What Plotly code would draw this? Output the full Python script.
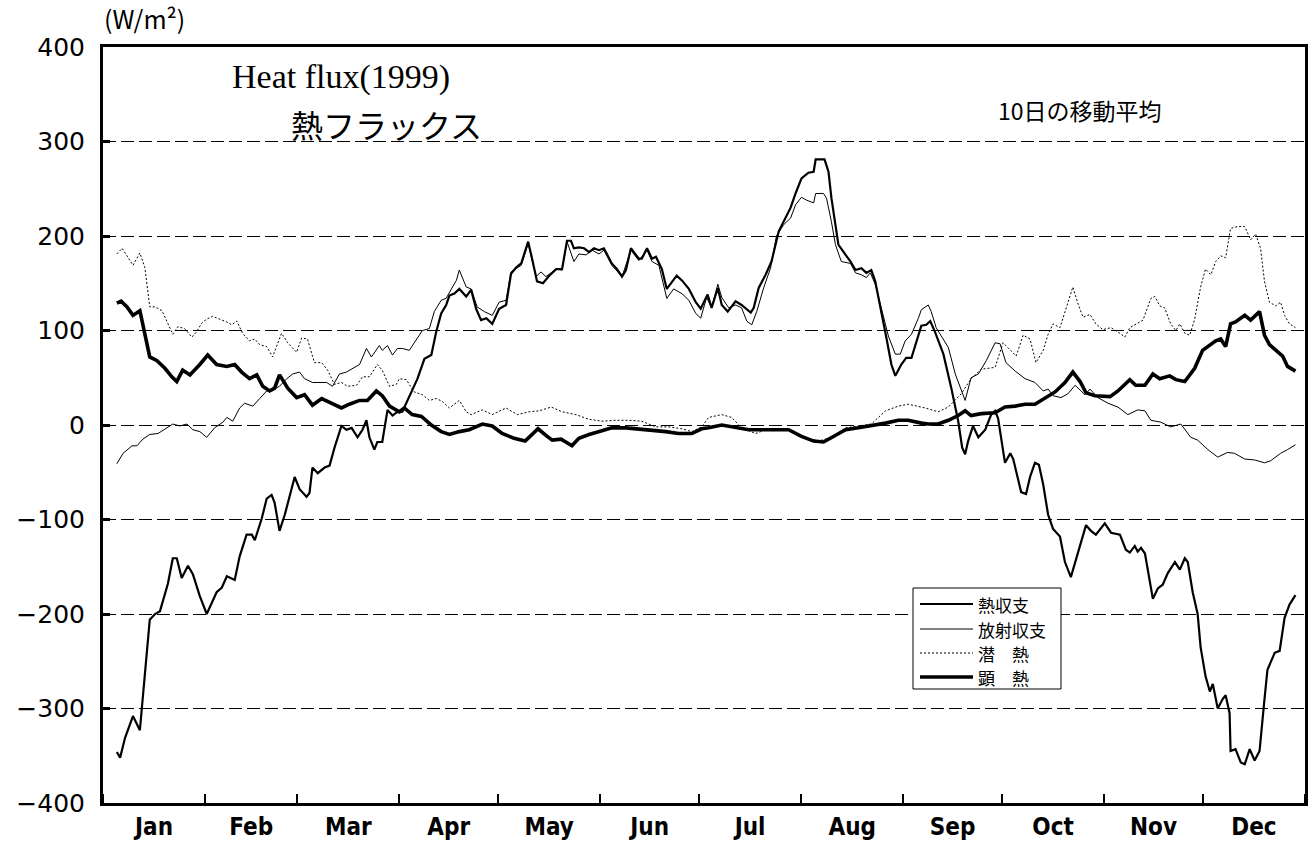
import pandas as pd
import plotly.graph_objects as go

# ---------------- data (day of year 1999, W/m2) ----------------
MONTH_START = "1999-01-01"

HB_DAY = [4.2,5.2,6.7,9.1,11.2,12.1,14.2,15.8,17.3,19.7,
          21.2,22.4,23.9,25.8,27.3,29.4,31.5,34.5,36.1,37.6,
          40.0,41.5,43.6,45.2,46.1,48.2,49.7,51.2,52.1,53.6,
          55.2,58.2,59.7,61.8,62.7,63.6,65.2,67.3,68.8,70.3,
          72.4,73.9,75.5,77.3,78.8,80.0,80.9,82.4,83.3,84.8,
          86.4,87.9,89.4,90.9,93.0,95.5,97.6,99.7,101.2,102.7,
          104.2,105.2,106.7,108.2,110.3,111.8,113.3,114.8,116.4,118.2,
          120.3,122.4,123.9,125.5,127.0,129.1,130.3,131.8,133.6,135.5,
          137.6,139.4,140.9,142.1,143.0,144.5,146.1,147.6,149.1,150.6,
          152.1,154.5,156.1,157.6,158.8,160.3,162.7,163.6,165.2,166.7,
          167.9,169.7,171.2,172.7,174.2,175.8,177.9,180.0,181.5,183.6,
          184.8,186.7,187.9,189.7,192.1,193.9,196.7,197.6,199.1,201.2,
          203.0,205.2,207.3,208.8,210.3,212.1,214.2,215.8,216.4,219.1,
          220.3,221.2,222.4,223.3,225.5,227.0,228.5,230.3,231.8,233.3,
          234.5,236.4,237.9,239.4,240.6,242.4,243.9,245.5,247.0,248.5,
          250.0,251.2,252.7,255.2,257.6,259.7,260.9,261.8,262.7,264.2,
          265.8,267.9,269.7,270.9,271.8,272.7,273.9,275.5,276.4,278.8,
          280.3,281.5,283.0,284.2,285.5,287.0,288.5,290.6,292.1,293.9,
          296.1,298.5,300.0,301.5,304.2,306.1,308.8,310.6,311.8,313.3,
          314.2,315.2,316.4,317.9,318.8,320.3,321.8,323.3,325.5,327.0,
          328.5,329.4,330.9,332.4,333.3,334.8,336.1,337.0,338.5,340.0,
          340.9,342.1,342.4,343.9,345.5,346.7,348.2,349.7,351.2,352.7,
          353.6,355.8,357.3,358.8,360.3,362.1]
HB_VAL = [-346,-352,-331,-308,-323,-290,-206,-200,-197,-168,
          -141,-141,-162,-149,-158,-181,-200,-177,-172,-160,
          -164,-139,-116,-116,-122,-99,-78,-74,-82,-112,
          -95,-55,-68,-76,-72,-45,-51,-45,-43,-24,
          -1,-5,-3,-13,-5,5,-13,-26,-18,-18,
          16,10,14,14,30,49,70,74,99,118,
          127,137,139,144,136,143,123,111,113,107,
          123,127,160,167,171,194,176,152,150,158,
          165,165,195,195,187,188,187,183,187,185,
          187,171,165,157,164,187,176,176,187,176,
          178,165,144,151,158,153,144,130,123,138,
          124,145,127,120,131,127,119,124,145,159,
          173,205,219,230,245,261,267,268,281,281,
          268,240,212,191,180,173,164,166,161,164,
          152,120,92,64,52,64,71,71,89,105,
          106,110,98,75,39,4,-24,-31,-17,-1,
          -13,-5,11,15,7,-12,-40,-30,-36,-71,
          -73,-55,-40,-42,-63,-95,-110,-118,-145,-161,
          -134,-106,-112,-116,-104,-114,-116,-132,-135,-128,
          -134,-130,-136,-169,-184,-173,-169,-157,-145,-153,
          -141,-145,-177,-200,-235,-266,-282,-274,-300,-290,
          -286,-305,-345,-343,-357,-359,-343,-355,-345,-290,
          -259,-241,-239,-204,-190,-180]

RB_DAY = [4.2,6.1,8.8,10.3,12.1,14.2,16.7,19.4,21.2,23.3,
          25.5,27.3,29.4,31.5,33.9,36.4,37.6,39.4,41.5,43.0,
          45.5,47.6,49.7,51.5,53.6,55.8,57.6,59.7,61.2,63.6,
          65.8,67.9,69.7,71.8,73.9,75.8,77.9,80.0,81.5,83.9,
          84.8,86.4,87.9,89.4,90.9,93.0,95.2,97.0,99.1,100.6,
          102.7,104.2,105.8,107.3,108.2,110.3,111.8,113.6,115.8,118.2,
          120.3,122.4,123.9,127.0,129.1,131.5,133.0,134.5,137.6,139.4,
          140.9,143.0,144.5,146.7,148.5,150.6,152.1,154.5,157.6,160.3,
          162.7,165.2,166.7,168.8,171.2,173.3,175.8,177.9,180.0,181.5,
          183.3,184.8,186.7,187.9,190.0,192.1,193.9,195.5,197.0,198.5,
          200.6,202.7,204.5,206.7,208.8,210.3,212.1,213.6,215.8,216.4,
          218.8,219.7,221.2,222.4,224.2,227.0,228.5,230.3,231.8,233.0,
          234.5,236.4,238.5,240.6,242.1,243.6,245.5,247.6,248.5,250.6,
          251.5,253.0,255.2,256.7,258.8,260.3,261.8,263.6,265.8,268.2,
          270.9,272.4,274.2,277.0,280.0,283.0,285.5,287.0,288.5,290.9,
          293.0,295.2,298.2,299.7,302.1,305.2,308.2,311.2,314.2,316.4,
          318.2,321.2,324.2,327.3,330.3,332.4,335.5,338.5,341.5,343.6,
          346.7,349.7,352.7,354.5,357.6,359.7,362.1]
RB_VAL = [-41,-30,-22,-22,-15,-10,-9,-3,1,-1,
          1,-5,-7,-13,-3,3,8,4,18,23,
          20,28,36,37,41,49,54,56,49,45,
          45,45,41,54,56,60,64,81,72,84,
          79,84,74,81,81,79,90,100,102,120,
          132,134,144,153,164,146,144,125,120,116,
          130,132,162,169,192,157,162,157,165,164,
          194,173,181,180,185,181,185,169,157,185,
          174,185,173,169,134,144,139,132,118,113,
          135,124,149,135,124,127,124,110,106,120,
          145,166,200,212,219,233,241,238,235,245,
          245,240,215,191,173,171,161,159,156,161,
          149,124,94,75,75,89,96,113,122,127,
          120,103,90,82,54,41,26,50,54,68,
          87,86,66,57,49,45,36,38,31,29,
          33,42,32,38,29,23,19,11,16,15,
          5,3,-2,1,-13,-16,-26,-34,-29,-30,
          -36,-37,-40,-38,-30,-26,-21]

LH_DAY = [4.2,5.8,7.3,9.1,11.2,12.7,14.2,15.8,17.9,19.7,
          21.2,22.7,24.8,27.0,28.5,30.0,31.5,33.3,35.5,37.6,
          39.1,40.6,42.4,44.5,46.1,47.6,49.7,51.5,54.2,56.1,
          58.8,60.3,62.1,64.2,66.4,68.2,70.3,72.4,74.2,77.0,
          78.8,80.9,83.3,84.8,87.0,89.1,90.0,92.1,94.5,97.0,
          99.1,101.2,103.0,105.2,108.2,110.3,111.8,115.2,118.2,122.4,
          125.8,129.4,132.4,136.1,139.4,143.6,147.6,151.5,155.8,159.7,
          163.6,167.9,171.8,175.8,178.8,181.8,183.9,187.9,190.9,193.9,
          198.2,201.2,205.2,209.1,213.3,217.3,221.2,225.5,229.4,233.3,
          237.6,241.5,244.5,249.7,253.6,256.7,260.6,263.6,266.7,270.9,
          273.3,275.5,277.3,279.4,281.5,283.3,285.5,287.0,288.5,290.6,
          292.4,294.5,296.1,297.6,299.7,301.5,303.6,306.1,308.8,310.3,
          311.8,313.6,315.8,318.2,319.4,320.9,322.4,324.2,325.8,327.0,
          328.5,330.0,331.5,333.3,334.8,336.4,337.9,339.4,340.9,342.4,
          344.5,346.7,348.5,350.0,351.5,352.7,354.2,356.1,357.6,358.8,
          360.3,362.1]
LH_VAL = [181,187,179,169,182,167,125,125,121,108,
          96,104,102,93,99,108,112,115,112,109,
          106,110,97,89,91,85,83,72,97,87,
          77,92,91,66,66,58,43,45,41,42,
          51,51,64,58,41,43,49,48,35,32,
          26,28,25,18,26,14,11,16,11,18,
          11,14,15,19,14,11,6,4,5,5,
          4,-2,-2,-4,-7,-2,8,11,8,-3,
          -9,-5,-5,-6,-13,-17,-13,-3,-1,1,
          15,20,22,18,14,19,33,49,59,61,
          87,79,73,95,91,66,79,96,107,103,
          124,146,128,114,117,107,101,103,97,93,
          103,107,111,134,136,126,124,107,100,107,
          97,95,112,146,165,159,173,179,177,208,
          210,210,196,202,187,152,130,126,130,116,
          107,103]

SH_DAY = [4.2,5.5,7.3,9.1,11.2,12.7,14.2,16.4,18.8,20.9,
          22.4,24.2,26.4,29.4,31.8,34.5,37.6,40.0,42.1,44.5,
          46.7,48.5,50.6,52.1,53.6,56.1,58.8,61.2,63.6,66.4,
          68.8,72.4,74.8,77.9,80.3,83.0,84.8,87.0,90.0,91.5,
          93.9,96.7,99.7,102.7,105.2,108.2,111.2,115.2,118.2,121.2,
          124.8,128.2,130.0,132.1,134.5,136.4,139.1,142.4,144.5,147.6,
          151.5,154.5,158.8,162.7,166.7,170.9,174.8,178.8,181.8,183.9,
          187.9,192.1,196.1,201.2,208.2,212.1,215.8,218.8,221.2,225.5,
          229.4,233.3,237.6,241.5,244.5,248.5,250.6,253.6,256.7,259.7,
          261.8,263.6,266.7,270.9,273.9,277.0,280.0,283.0,286.1,289.1,
          292.1,294.5,296.7,298.5,301.2,303.6,305.8,308.2,311.8,313.6,
          316.4,318.8,320.9,323.9,325.8,328.5,331.5,333.9,336.1,337.9,
          339.4,340.9,342.4,343.9,346.7,348.5,351.2,352.7,354.2,356.7,
          358.2,359.7,362.1]
SH_VAL = [129,131,125,116,121,95,72,68,60,51,
          46,58,53,64,74,64,62,64,56,49,
          53,41,36,39,53,39,29,32,21,28,
          24,18,22,26,26,36,31,20,14,18,
          11,9,0,-7,-10,-7,-5,1,-1,-9,
          -14,-17,-11,-4,-11,-16,-15,-22,-14,-10,
          -6,-3,-3,-4,-5,-7,-9,-9,-4,-3,
          0,-3,-5,-5,-5,-12,-17,-18,-13,-5,
          -3,-1,2,5,5,2,1,1,5,10,
          15,10,12,13,19,20,22,22,29,35,
          45,56,46,34,31,30,30,36,48,42,
          42,54,49,52,48,46,60,79,85,89,
          91,83,107,109,116,111,120,95,85,77,
          73,62,57]

SERIES = [
    ("熱収支", HB_DAY, HB_VAL, 2.2, "solid"),
    ("放射収支", RB_DAY, RB_VAL, 1.0, "solid"),
    ("潜\u3000熱", LH_DAY, LH_VAL, 1.0, "2px,2px"),
    ("顕\u3000熱", SH_DAY, SH_VAL, 3.6, "solid"),
]
for _n, _d, _v, _w, _s in SERIES:
    assert len(_d) == len(_v), _n

Y_TICKS = [-400, -300, -200, -100, 0, 100, 200, 300, 400]

# ---------------- figure ----------------
base = pd.Timestamp(MONTH_START)
fig = go.Figure()
for name, days, vals, width, dash in SERIES:
    x = [base + pd.to_timedelta(d, unit="D") for d in days]
    fig.add_trace(go.Scatter(
        x=x, y=vals, mode="lines", name=name, showlegend=False,
        line=dict(color="black", width=width, dash=dash),
    ))

W, H = 1316, 845
L, R, T, B = 103, 11, 47, 42
pw, ph = W - L - R, H - T - B

def px(xp):
    return (xp - L) / pw

def py(yp):
    return (H - B - yp) / ph

fig.update_layout(
    width=W, height=H,
    margin=dict(l=L, r=R, t=T, b=B, autoexpand=False),
    paper_bgcolor="white", plot_bgcolor="white",
    showlegend=False,
    font=dict(family="DejaVu Sans", color="black"),
)

fig.update_xaxes(
    type="date",
    range=["1999-01-01", "2000-01-01"],
    dtick="M1", tickformat="%b", ticklabelmode="period",
    ticks="inside", ticklen=9, tickwidth=1.5, tickcolor="black",
    showgrid=False, zeroline=False, automargin=False,
    showline=True, linewidth=3, linecolor="black", mirror=True,
    tickfont=dict(family="DejaVu Sans Condensed, DejaVu Sans", size=24,
                  color="black", weight="bold"),
)
fig.update_yaxes(
    range=[-400, 400], tickvals=Y_TICKS,
    ticks="inside", ticklen=7, tickwidth=3, tickcolor="black",
    showgrid=True, gridcolor="black", gridwidth=1, griddash="13px,5px",
    zeroline=False, automargin=False,
    showline=True, linewidth=3, linecolor="black", mirror=True,
    tickfont=dict(family="DejaVu Sans", size=25, color="black"),
    ticklabelstandoff=10,
)

# titles and notes
fig.add_annotation(text="(W/m²)", xref="paper", yref="paper",
                   x=px(102), y=py(18), xanchor="left", yanchor="middle",
                   showarrow=False,
                   font=dict(family="Noto Sans CJK JP", size=25, color="black"))
fig.add_annotation(text="Heat flux(1999)", xref="paper", yref="paper",
                   x=px(341), y=py(77), xanchor="center", yanchor="middle",
                   showarrow=False,
                   font=dict(family="Liberation Serif", size=34, color="black"))
fig.add_annotation(text="熱フラックス", xref="paper", yref="paper",
                   x=px(386), y=py(124), xanchor="center", yanchor="middle",
                   showarrow=False,
                   font=dict(family="Noto Sans CJK JP", size=32, color="black"))
fig.add_annotation(text="10日の移動平均", xref="paper", yref="paper",
                   x=px(1080), y=py(110), xanchor="center", yanchor="middle",
                   showarrow=False,
                   font=dict(family="Noto Sans CJK JP", size=23, color="black"))

# legend box (drawn to match the original's long line samples)
LEG_X0, LEG_X1, LEG_Y0, LEG_Y1 = 913, 1061, 588, 689
LEG_ROWS = [604, 629, 653, 677]
fig.add_shape(type="rect", xref="paper", yref="paper",
              x0=px(LEG_X0), x1=px(LEG_X1), y0=py(LEG_Y1), y1=py(LEG_Y0),
              line=dict(color="black", width=1), fillcolor="white", layer="above")
for (name, _d, _v, width, dash), ry in zip(SERIES, LEG_ROWS):
    fig.add_shape(type="line", xref="paper", yref="paper",
                  x0=px(920), x1=px(973), y0=py(ry), y1=py(ry),
                  line=dict(color="black", width=width, dash=dash), layer="above")
    fig.add_annotation(text=name, xref="paper", yref="paper",
                       x=px(976), y=py(ry), xanchor="left", yanchor="middle",
                       showarrow=False,
                       font=dict(family="Noto Sans CJK JP", size=17, color="black"))

fig.write_html(
    "out.html",
    config={"displayModeBar": False},
    post_script="document.body.style.margin='0';document.body.style.overflow='hidden';",
)
